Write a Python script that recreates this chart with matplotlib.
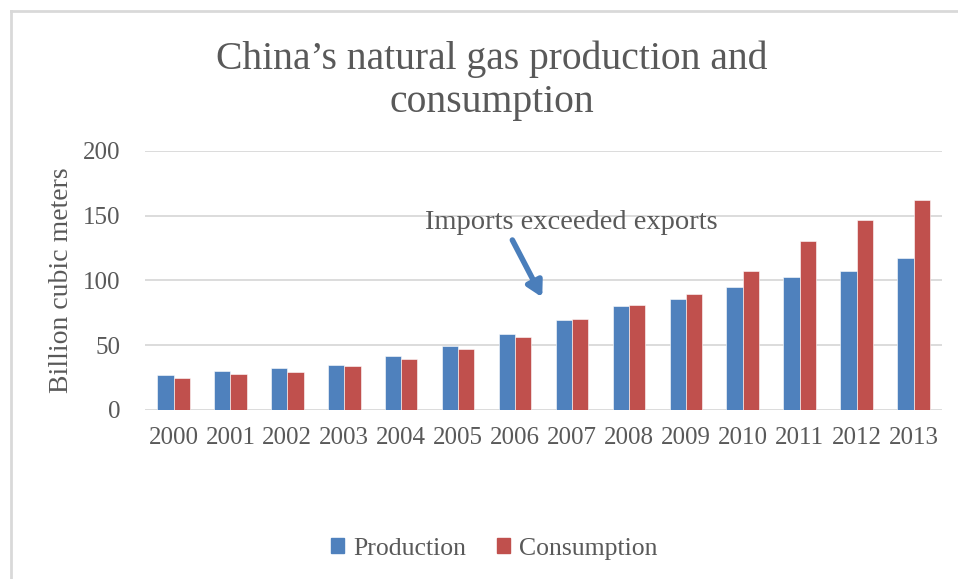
import matplotlib.pyplot as plt
import numpy as np
from matplotlib.lines import Line2D
from matplotlib.patches import Patch

years = ['2000', '2001', '2002', '2003', '2004', '2005', '2006',
         '2007', '2008', '2009', '2010', '2011', '2012', '2013']
production = [27.0, 30.3, 32.7, 35.0, 41.5, 49.3, 58.6,
              69.2, 80.3, 85.3, 94.8, 102.7, 107.2, 117.1]
consumption = [24.5, 27.4, 29.2, 33.9, 39.7, 46.8, 56.1,
               70.5, 81.3, 89.5, 106.9, 130.5, 146.3, 161.6]

blue = '#4F81BD'
red = '#C0504D'
txt = '#595959'
grid = '#D9D9D9'
font = 'Liberation Serif'

fig = plt.figure(figsize=(9.58, 5.79), dpi=100)
ax = fig.add_axes([0.1514, 0.2919, 0.8319, 0.4478])

x = np.arange(len(years))
w = 0.286
ax.bar(x - w/2, production, w, color=blue, edgecolor='white', linewidth=0.4, zorder=3)
ax.bar(x + w/2, consumption, w, color=red, edgecolor='white', linewidth=0.4, zorder=3)

ax.set_xlim(-0.5, len(years) - 0.5)
ax.set_ylim(0, 200)
ax.set_yticks([0, 50, 100, 150, 200])
ax.set_xticks(x)
ax.set_xticklabels(years)
ax.yaxis.grid(True, color=grid, linewidth=1.3, zorder=0)
ax.set_axisbelow(True)
for s in ax.spines.values():
    s.set_visible(False)
ax.tick_params(axis='both', length=0, colors=txt, labelsize=18)
ax.tick_params(axis='y', pad=18)
ax.tick_params(axis='x', pad=12)
for lab in ax.get_xticklabels() + ax.get_yticklabels():
    lab.set_fontfamily(font)

ax.set_ylabel('Billion cubic meters', fontsize=20, color=txt, family=font, labelpad=6)

# arrow pointing at 2007, the year imports overtook exports
ax.annotate('', xy=(6.5, 85), xytext=(5.93, 133),
            arrowprops=dict(arrowstyle='-|>,head_length=0.9,head_width=0.5',
                            color='#4A7EBB', lw=4))
ax.text(6.99, 144.5, 'Imports exceeded exports', ha='center', va='center',
        fontsize=20.5, color=txt, family=font)

fig.suptitle('China\u2019s natural gas production and\nconsumption', x=0.513, y=0.93,
             fontsize=28.5, color=txt, family=font, linespacing=1.22)

handles = [Patch(color=blue, label='Production'), Patch(color=red, label='Consumption')]
fig.legend(handles=handles, loc='center', bbox_to_anchor=(0.516, 0.052), ncol=2,
           frameon=False, prop={'family': font, 'size': 18.5}, labelcolor=txt,
           handlelength=0.52, handleheight=0.52, handletextpad=0.35, columnspacing=1.2)

# chart border (top and left edges visible)
fig.add_artist(Line2D([10.5/958, 10.5/958], [0, 1 - 10.5/579], color=grid, lw=2,
                      transform=fig.transFigure))
fig.add_artist(Line2D([10.5/958, 1], [1 - 10.5/579, 1 - 10.5/579], color=grid, lw=2,
                      transform=fig.transFigure))

fig.savefig('out.png', dpi=100, facecolor='white')
